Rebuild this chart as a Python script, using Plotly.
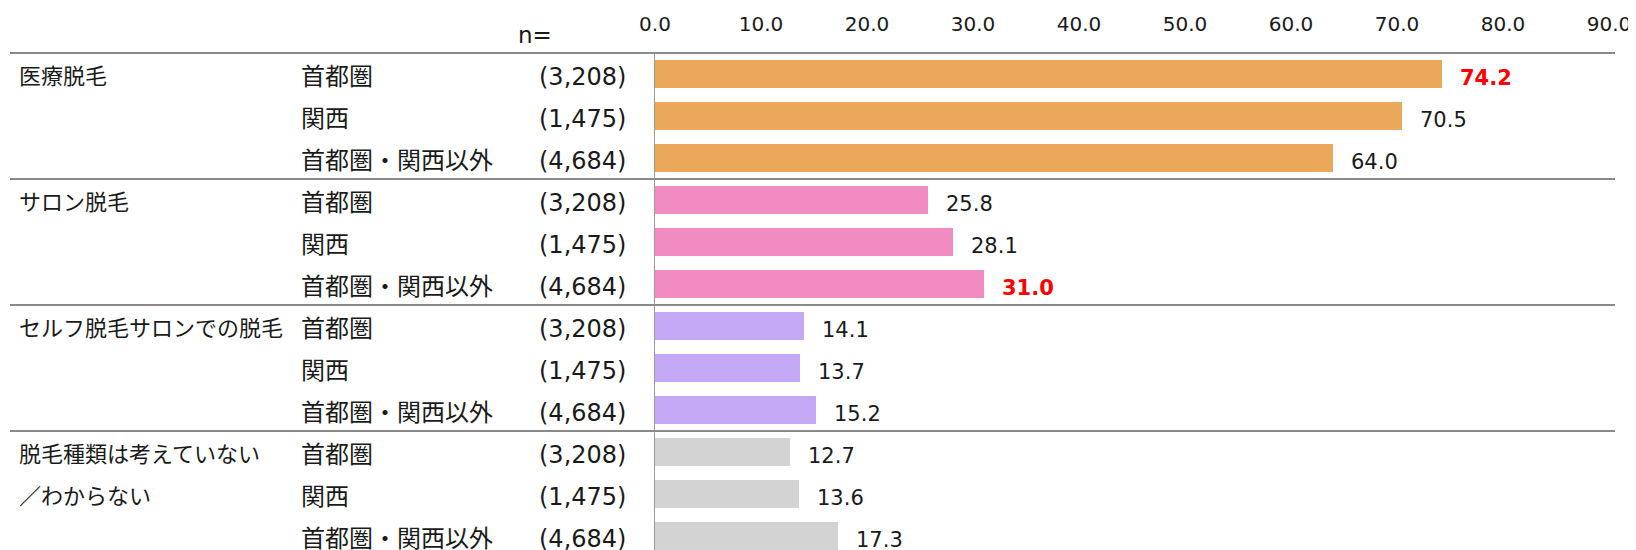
import plotly.graph_objects as go

# data
groups = ["医療脱毛", "サロン脱毛", "セルフ脱毛サロンでの脱毛", "脱毛種類は考えていない\n／わからない"]
regions = ["首都圏", "関西", "首都圏・関西以外"]
n_labels = ["(3,208)", "(1,475)", "(4,684)"]
values = [
    [74.2, 70.5, 64.0],
    [25.8, 28.1, 31.0],
    [14.1, 13.7, 15.2],
    [12.7, 13.6, 17.3],
]
highlight = [(0, 0), (1, 2)]  # (group, region) shown in red bold
colors = ["#EBA85B", "#F38BC3", "#C4A7F5", "#D3D3D3"]
tick_vals = [0, 10, 20, 30, 40, 50, 60, 70, 80, 90]

# page geometry (pixels); the page body adds an 8px margin
OFF = 8
W, H = 1636, 550
L, R, T, B = 655, 27, 53, 0
row_px = 42
plot_w = W - L - R
plot_h = H - T - B
y_top = -0.5
y_bottom = y_top + plot_h / row_px

jp_font = "Noto Sans CJK JP, sans-serif"
num_font = "DejaVu Sans, sans-serif"
txt_color = "#1a1a1a"


def px_x(px):
    return (px - L) / plot_w


def px_y(px):
    return (H - B - px) / plot_h


def data_y(y):
    return (y_bottom - y) / (y_bottom - y_top)


fig = go.Figure()
annotations = []
shapes = []

for g, grp in enumerate(groups):
    rows = [g * len(regions) + r for r in range(len(regions))]
    fig.add_trace(go.Bar(
        x=values[g], y=rows, orientation="h", width=0.66,
        marker=dict(color=colors[g], line=dict(width=0)),
        hoverinfo="x", showlegend=False,
    ))
    for r, reg in enumerate(regions):
        row = rows[r]
        hi = (g, r) in highlight
        annotations.append(dict(
            x=values[g][r], y=row, xref="x", yref="y", text=f"{values[g][r]:.1f}",
            showarrow=False, xanchor="left", xshift=16, yshift=-4,
            font=dict(size=21, color="#FF0000" if hi else txt_color,
                      family=num_font, weight="bold" if hi else "normal"),
        ))
        annotations.append(dict(
            x=px_x(299), y=row, xref="paper", yref="y", text=reg,
            showarrow=False, xanchor="left", font=dict(size=24, color=txt_color, family=jp_font),
        ))
        annotations.append(dict(
            x=px_x(628), y=row, xref="paper", yref="y", text=n_labels[r],
            showarrow=False, xanchor="right", yshift=-3,
            font=dict(size=24, color=txt_color, family=num_font),
        ))
    for k, line in enumerate(grp.split("\n")):
        annotations.append(dict(
            x=px_x(17), y=rows[k], xref="paper", yref="y", text=line,
            showarrow=False, xanchor="left", font=dict(size=22, color=txt_color, family=jp_font),
        ))
    # separator above each group
    sep = data_y(g * len(regions) - 0.5)
    shapes.append(dict(type="line", xref="paper", yref="paper",
                       x0=px_x(10), x1=px_x(1615), y0=sep, y1=sep,
                       line=dict(color="#8a8a8a", width=2)))

annotations.append(dict(
    x=px_x(535), y=px_y(35), xref="paper", yref="paper", text="n=",
    showarrow=False, xanchor="center", yanchor="middle",
    font=dict(size=23, color=txt_color, family=num_font),
))

fig.update_layout(
    width=W - OFF, height=H - OFF,
    margin=dict(l=L - OFF, r=R, t=T - OFF, b=B, pad=0),
    paper_bgcolor="white", plot_bgcolor="white",
    bargap=0, barmode="overlay",
    annotations=annotations, shapes=shapes,
    xaxis=dict(side="top", range=[0, 90], tickvals=tick_vals, tickformat=".1f",
               showgrid=False, zeroline=False, showline=False, ticks="",
               ticklabelstandoff=17, fixedrange=True,
               tickfont=dict(size=20, color=txt_color, family=num_font)),
    yaxis=dict(range=[y_bottom, y_top], showticklabels=False, showgrid=False,
               zeroline=False, showline=True, linecolor="#9a9a9a", linewidth=1,
               ticks="", fixedrange=True),
)

fig.write_html("out.html")
